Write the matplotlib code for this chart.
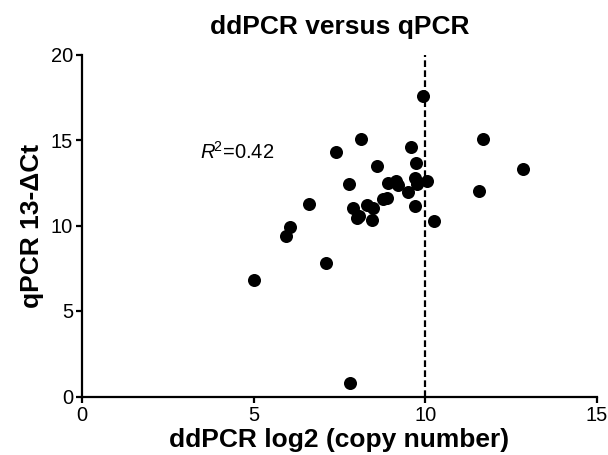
import matplotlib
matplotlib.use("Agg")
import matplotlib.pyplot as plt

plt.rcParams['font.family'] = ['Liberation Sans', 'DejaVu Sans']
plt.rcParams['mathtext.fontset'] = 'custom'
plt.rcParams['mathtext.rm'] = 'Liberation Sans'
plt.rcParams['mathtext.it'] = 'Liberation Sans:italic'

ddpcr = [9.94, 8.13, 11.68, 7.40, 9.58, 9.72, 8.60, 12.85, 7.77, 8.91, 9.15, 9.20,
         9.69, 9.75, 10.05, 9.50, 11.55, 6.61, 8.76, 8.88, 8.29, 8.48, 7.88, 9.69,
         8.08, 8.01, 8.46, 10.24, 6.05, 5.95, 7.11, 5.00, 7.80]
qpcr = [17.55, 15.08, 15.07, 14.27, 14.57, 13.68, 13.50, 13.28, 12.43, 12.50, 12.63, 12.37,
        12.77, 12.45, 12.58, 11.97, 12.02, 11.28, 11.55, 11.62, 11.22, 11.00, 11.05, 11.12,
        10.58, 10.44, 10.33, 10.25, 9.92, 9.40, 7.82, 6.80, 0.80]
cutoff = 10
r2_text = "=0.42"
x_ticks = [0, 5, 10, 15]
y_ticks = [0, 5, 10, 15, 20]

W, H = 608, 455
fig = plt.figure(figsize=(W / 100, H / 100), dpi=100)
ax = fig.add_axes([82 / W, 1 - 396.5 / H, 515 / W, 342 / H])

ax.scatter(ddpcr, qpcr, s=88, color='black', zorder=3, linewidths=0, clip_on=False)
ax.axvline(cutoff, color='black', lw=1.6, ls=(0, (3, 1.5)), zorder=2)

ax.set_xlim(0, 15)
ax.set_ylim(0, 20)
ax.set_xticks(x_ticks)
ax.set_yticks(y_ticks)
for s in ['top', 'right']:
    ax.spines[s].set_visible(False)
for s in ['left', 'bottom']:
    ax.spines[s].set_linewidth(1.6)
ax.tick_params(axis='both', direction='out', length=4.5, width=1.6, labelsize=14.5, pad=2)

ax.text(3.44, 14.32, r"$\mathit{R}^{\!2}$" + r2_text, fontsize=14.5, va='center', ha='left')

fig.text((82 + 597) / 2 / W, 1 - 34 / H, "ddPCR versus qPCR", fontsize=19,
         fontweight='bold', ha='center', va='baseline')
fig.text((82 + 597) / 2 / W, 1 - 447 / H, "ddPCR log2 (copy number)", fontsize=19,
         fontweight='bold', ha='center', va='baseline')
fig.text(32 / W, 1 - 226 / H, "qPCR 13-\u0394Ct", fontsize=19, fontweight='bold',
         ha='center', va='center', rotation=90)

fig.savefig("out.png", dpi=100)
